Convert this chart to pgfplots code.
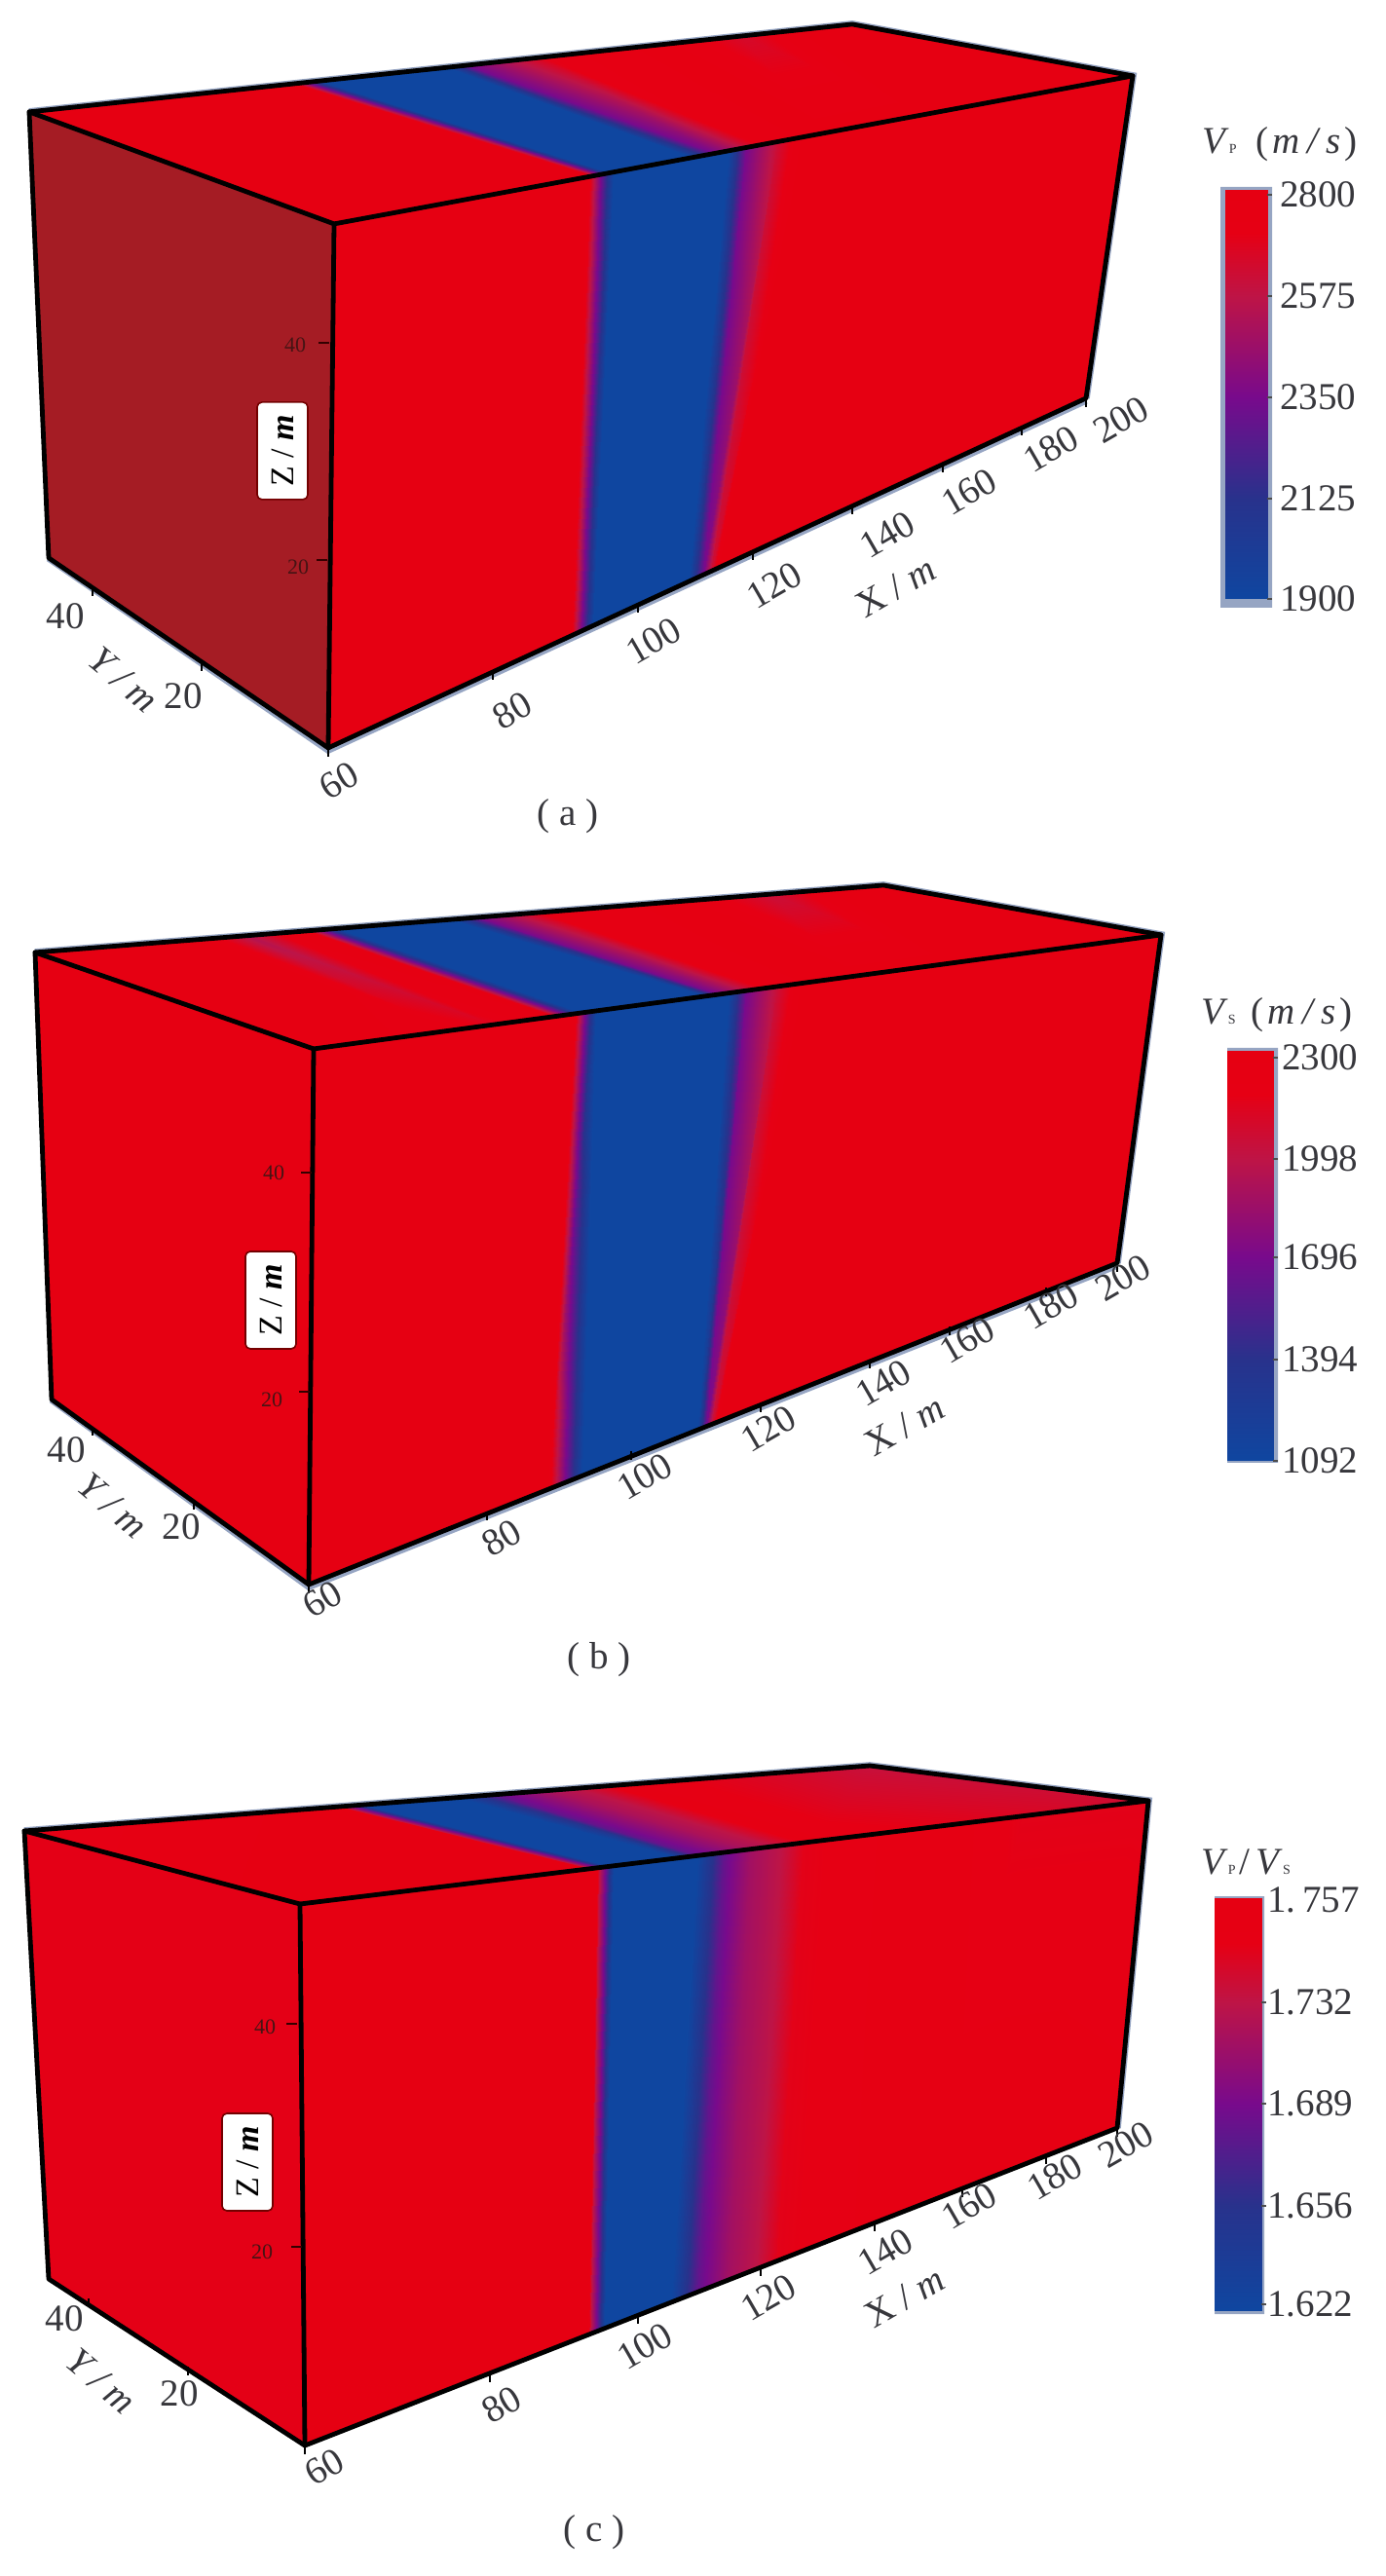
\documentclass[border=0pt]{standalone}
\usepackage{fontspec}
\setmainfont{Liberation Serif}
\usepackage{pgfplots}
\pgfplotsset{compat=1.18}
\definecolor{txt}{RGB}{55,55,60}
\definecolor{leftdark}{RGB}{165,28,36}
\definecolor{halo}{RGB}{150,165,195}
\definecolor{ztxt}{RGB}{70,20,20}
\newcommand{\fs}{\fontsize{19.5}{20}\selectfont}
\newcommand{\tk}[2]{\addplot[black,line width=1.4pt] coordinates {(#1,#2) (#1,#2+9)};}
\newcommand{\ztk}[2]{\addplot[black!80!red,line width=1.4pt] coordinates {(#1-11,#2) (#1,#2)};}
\newcommand{\lab}[4]{\node[rotate=#1,text=txt,font=\fs,inner sep=0pt] at (axis cs:#2,#3) {#4};}
\newcommand{\zlab}[3]{\node[text=ztxt,font=\fontsize{11}{11}\selectfont,inner sep=0pt] at (axis cs:#1,#2) {#3};}
\newcommand{\zbox}[2]{\node[fill=white,draw=black!55!red,line width=0.8pt,rounded corners=2.5pt,rotate=90,minimum width=50pt,minimum height=26pt,inner sep=0pt,font=\fontsize{17}{17}\selectfont,text=black] at (axis cs:#1,#2) {Z / \textit{\textbf{m}}};}
\newcommand{\cbtk}[2]{\addplot[black!70,line width=0.8pt] coordinates {(#1,#2) (#1+5,#2)};}
\pgfplotsset{panel/.style={
  at={(0,0)},anchor=south west,scale only axis,width=711.5pt,height=1322.5pt,
  xmin=0,xmax=1423,ymin=0,ymax=2645,y dir=reverse,axis lines=none,clip=false,
  enlargelimits=false},
  face/.style={surf,shader=interp,point meta=explicit,draw=none},
  edge/.style={black,line width=2.4pt,line join=round,line cap=round},
  haloline/.style={halo,line width=3.8pt},
  colormap={vel}{rgb255(0)=(15,70,160); rgb255(250)=(40,50,140); rgb255(500)=(120,10,140); rgb255(750)=(190,20,70); rgb255(900)=(230,0,20); rgb255(1000)=(230,0,18)},
  colormap={ratio}{rgb255(0)=(15,70,160); rgb255(252)=(40,50,140); rgb255(496)=(120,10,140); rgb255(815)=(190,20,70); rgb255(920)=(230,0,20); rgb255(1000)=(230,0,18)}
}
\begin{document}
\begin{tikzpicture}
\path[use as bounding box] (0,0) rectangle (711.5pt,1322.5pt);
% ---------- panel a
\begin{axis}[panel,colormap name=vel,point meta min=1900,point meta max=2800]
\addplot[haloline] coordinates {(30,115) (875,25) (1163,78) (1115,409)};
\addplot[haloline] coordinates {(50,573) (337,770) (1115,411)};
\addplot[fill=leftdark,draw=none] coordinates {(30,115) (343,230) (337,768) (50,573) (30,115)};
\addplot[face,mesh/rows=2] table[x=x,y=y,meta=c] {
x y c
30 115 2800
300 86.2 2800
328 83.3 1900
458 69.4 1900
480 67 2350
556 59 2700
680 45.8 2800
760 37.3 2650
830 29.9 2800
875 25 2800
343 230 2800
607 181 2800
626 177.5 1900
712 161.6 1900
734 157.5 2350
785 148 2750
850 136 2800
950 117.5 2800
1050 99 2800
1163 78 2800
};
\addplot[face,mesh/rows=2] table[x=x,y=y,meta=c] {
x y c
343 230 2800
603 181.8 2800
630 176.8 1900
748 154.9 1900
766 151.6 2350
798 145.7 2620
825 140.6 2800
1163 78 2800
337 768 2800
585 653.6 2800
609 642.5 1900
707 597.3 1900
722 590.4 2350
730 586.6 2620
738 583 2800
1115 409 2800
};
\addplot[edge] coordinates {(30,115) (875,25) (1163,78) (1115,409) (337,768) (50,573) (30,115)};
\addplot[edge] coordinates {(30,115) (343,230) (1163,78)};
\addplot[edge] coordinates {(343,230) (337,768)};
\tk{337}{768}\tk{506}{689}\tk{655}{620}\tk{773}{566}\tk{875}{519}\tk{968}{476}\tk{1049}{438}\tk{1115}{409}
\tk{95}{603}\tk{207}{680}
\ztk{338}{352}\ztk{336}{575}
\lab{30}{348}{802}{60}\lab{30}{526}{730}{80}\lab{30}{671}{658}{100}\lab{30}{795}{601}{120}
\lab{30}{911}{549}{140}\lab{30}{995}{505}{160}\lab{30}{1079}{461}{180}\lab{30}{1151}{431}{200}
\lab{30}{920}{603}{X / \textit{m}}
\lab{0}{67}{633}{40}\lab{0}{188}{715}{20}
\lab{-40}{127}{698}{\textit{Y / m}}
\zlab{303}{354}{40}\zlab{306}{582}{20}
\zbox{290}{463}
\lab{0}{583}{838}{( a )}
\addplot[fill=halo,draw=none] coordinates {(1253,192) (1306,192) (1306,624) (1253,624) (1253,192)};
\addplot[face,mesh/rows=5] table[x=x,y=y,meta=c] {
x y c
1258 195 2800
1301 195 2800
1258 304 2575
1301 304 2575
1258 408 2350
1301 408 2350
1258 512 2125
1301 512 2125
1258 615 1900
1301 615 1900
};
\cbtk{1301}{200}\cbtk{1301}{304}\cbtk{1301}{408}\cbtk{1301}{512}\cbtk{1301}{615}
\node[anchor=west,text=txt,font=\fs,inner sep=0pt] at (axis cs:1314,200) {2800};
\node[anchor=west,text=txt,font=\fs,inner sep=0pt] at (axis cs:1314,304) {2575};
\node[anchor=west,text=txt,font=\fs,inner sep=0pt] at (axis cs:1314,408) {2350};
\node[anchor=west,text=txt,font=\fs,inner sep=0pt] at (axis cs:1314,512) {2125};
\node[anchor=west,text=txt,font=\fs,inner sep=0pt] at (axis cs:1314,615) {1900};
\node[anchor=west,text=txt,font=\fs,inner sep=0pt] at (axis cs:1234,148) {\textit{V}{\fontsize{7}{7}\selectfont P}\hspace{10pt}(\hspace{2pt}\textit{m\hspace{4pt}/\hspace{4pt}s}\hspace{2pt})};
\end{axis}
% ---------- panel b
\begin{axis}[panel,colormap name=vel,point meta min=1092,point meta max=2300]
\addplot[haloline] coordinates {(36,978) (907,909) (1192,960) (1147,1297)};
\addplot[haloline] coordinates {(53,1437) (317,1629) (1147,1299)};
\addplot[fill={rgb,255:red,230;green,0;blue,18},draw=none] coordinates {(36,978) (322,1077) (317,1627) (53,1437) (36,978)};
\addplot[face,mesh/rows=2] table[x=x,y=y,meta=c] {
x y c
36 978 2300
209 964.3 2300
254 960.7 1950
299 957.2 2300
313 956 2300
345 953.5 1092
462 944.3 1092
490 942 1700
556 936.8 2200
700 925.4 2300
790 918.3 2050
860 912.7 2300
907 909 2300
322 1077 2300
463 1058 2250
508 1052 2150
553 1046 2250
567 1044 2300
598 1039.9 1092
725 1022.8 1092
739 1020.9 1700
790 1014 2250
880 1002 2300
980 988.5 2300
1080 975 2300
1192 960 2300
};
\addplot[face,mesh/rows=2] table[x=x,y=y,meta=c] {
x y c
322 1077 2300
589 1041 2300
612 1038 1092
748 1020 1092
766 1017.3 1696
798 1013 2050
825 1009.3 2300
1192 960 2300
317 1627 2300
562 1529.6 2300
598 1515.3 1092
716 1468.4 1092
725 1464.8 1696
731 1462.4 2050
738 1459.6 2300
1147 1297 2300
};
\addplot[edge] coordinates {(36,978) (907,909) (1192,960) (1147,1297) (317,1627) (53,1437) (36,978)};
\addplot[edge] coordinates {(36,978) (322,1077) (1192,960)};
\addplot[edge] coordinates {(322,1077) (317,1627)};
\tk{317}{1627}\tk{500}{1552}\tk{648}{1490}\tk{781}{1441}\tk{893}{1396}\tk{975}{1362}\tk{1074}{1322}\tk{1147}{1297}
\tk{95}{1465}\tk{199}{1541}
\ztk{320}{1204}\ztk{318}{1429}
\lab{30}{331}{1642}{60}\lab{30}{515}{1579}{80}\lab{30}{662}{1516}{100}\lab{30}{789}{1467}{120}
\lab{30}{907}{1420}{140}\lab{30}{993}{1376}{160}\lab{30}{1079}{1341}{180}\lab{30}{1153}{1312}{200}
\lab{30}{929}{1464}{X / \textit{m}}
\lab{0}{68}{1489}{40}\lab{0}{186}{1568}{20}
\lab{-40}{116}{1546}{\textit{Y / m}}
\zlab{281}{1204}{40}\zlab{279}{1437}{20}
\zbox{278}{1335}
\lab{0}{615}{1704}{( b )}
\addplot[fill=halo,draw=none] coordinates {(1260,1076) (1312,1076) (1312,1502) (1260,1502) (1260,1076)};
\addplot[face,mesh/rows=5] table[x=x,y=y,meta=c] {
x y c
1260 1079 2300
1307 1079 2300
1260 1190 1998
1307 1190 1998
1260 1291 1696
1307 1291 1696
1260 1396 1394
1307 1396 1394
1260 1500 1092
1307 1500 1092
};
\cbtk{1307}{1086}\cbtk{1307}{1190}\cbtk{1307}{1291}\cbtk{1307}{1396}\cbtk{1307}{1500}
\node[anchor=west,text=txt,font=\fs,inner sep=0pt] at (axis cs:1316,1086) {2300};
\node[anchor=west,text=txt,font=\fs,inner sep=0pt] at (axis cs:1316,1190) {1998};
\node[anchor=west,text=txt,font=\fs,inner sep=0pt] at (axis cs:1316,1291) {1696};
\node[anchor=west,text=txt,font=\fs,inner sep=0pt] at (axis cs:1316,1396) {1394};
\node[anchor=west,text=txt,font=\fs,inner sep=0pt] at (axis cs:1316,1500) {1092};
\node[anchor=west,text=txt,font=\fs,inner sep=0pt] at (axis cs:1233,1042) {\textit{V}{\fontsize{7}{7}\selectfont S}\hspace{8pt}(\hspace{2pt}\textit{m\hspace{4pt}/\hspace{4pt}s}\hspace{2pt})};
\end{axis}
% ---------- panel c
\begin{axis}[panel,colormap name=ratio,point meta min=1.622,point meta max=1.757]
\addplot[haloline] coordinates {(25,1880) (893,1813) (1179,1849) (1147,2185)};
\addplot[fill={rgb,255:red,228;green,0;blue,22},draw=none] coordinates {(25,1880) (308,1955) (313,2511) (50,2340) (25,1880)};
\addplot[face,mesh/rows=2] table[x=x,y=y,meta=c] {
x y c
25 1880 1.745
345 1855.3 1.757
372 1853.2 1.622
471 1845.6 1.622
508 1842.7 1.68
562 1838.5 1.72
635 1832.9 1.75
893 1813 1.735
308 1955 1.757
603 1919.1 1.757
626 1916.3 1.622
698 1907.5 1.622
716 1905.3 1.68
771 1898.7 1.72
834 1891 1.75
1179 1849 1.738
};
\addplot[face,mesh/rows=2] table[x=x,y=y,meta=c] {
x y c
308 1955 1.757
612 1918 1.757
630 1915.8 1.622
716 1905.3 1.622
743 1902 1.68
771 1898.7 1.715
825 1892.1 1.745
960 1875.7 1.752
1050 1864.7 1.745
1179 1849 1.745
313 2511 1.757
603 2397.6 1.757
621 2390.6 1.622
689 2364 1.622
716 2353.5 1.68
748 2341 1.715
798 2321.4 1.745
940 2265.9 1.752
1020 2234.6 1.752
1147 2185 1.75
};
\addplot[edge] coordinates {(25,1880) (893,1813) (1179,1849) (1147,2185) (313,2511) (50,2340) (25,1880)};
\addplot[edge] coordinates {(25,1880) (308,1955) (1179,1849)};
\addplot[edge] coordinates {(308,1955) (313,2511)};
\tk{313}{2511}\tk{503}{2437}\tk{655}{2377}\tk{781}{2328}\tk{898}{2282}\tk{988}{2247}\tk{1074}{2213}\tk{1147}{2185}
\tk{91}{2360}\tk{193}{2430}
\ztk{305}{2078}\ztk{310}{2307}
\lab{30}{333}{2533}{60}\lab{30}{515}{2469}{80}\lab{30}{662}{2409}{100}\lab{30}{789}{2359}{120}
\lab{30}{909}{2312}{140}\lab{30}{995}{2265}{160}\lab{30}{1083}{2235}{180}\lab{30}{1156}{2202}{200}
\lab{30}{929}{2359}{X / \textit{m}}
\lab{0}{66}{2381}{40}\lab{0}{184}{2458}{20}
\lab{-40}{104}{2445}{\textit{Y / m}}
\zlab{272}{2081}{40}\zlab{269}{2312}{20}
\zbox{254}{2220}
\lab{0}{610}{2600}{( c )}
\addplot[fill=halo,draw=none] coordinates {(1247,1947) (1298,1947) (1298,2376) (1247,2376) (1247,1947)};
\addplot[face,mesh/rows=5] table[x=x,y=y,meta=c] {
x y c
1247 1949 1.757
1295 1949 1.757
1247 2056 1.732
1295 2056 1.732
1247 2160 1.689
1295 2160 1.689
1247 2265 1.656
1295 2265 1.656
1247 2372 1.622
1295 2372 1.622
};
\cbtk{1295}{2056}\cbtk{1295}{2160}\cbtk{1295}{2265}\cbtk{1295}{2366}
\node[anchor=west,text=txt,font=\fs,inner sep=0pt] at (axis cs:1301,1951) {1.\,757};
\node[anchor=west,text=txt,font=\fs,inner sep=0pt] at (axis cs:1301,2056) {1.732};
\node[anchor=west,text=txt,font=\fs,inner sep=0pt] at (axis cs:1301,2160) {1.689};
\node[anchor=west,text=txt,font=\fs,inner sep=0pt] at (axis cs:1301,2265) {1.656};
\node[anchor=west,text=txt,font=\fs,inner sep=0pt] at (axis cs:1301,2366) {1.622};
\node[anchor=west,text=txt,font=\fs,inner sep=0pt] at (axis cs:1233,1912) {\textit{V}{\fontsize{7}{7}\selectfont P}\hspace{2pt}/\hspace{3pt}\textit{V}{\fontsize{7}{7}\selectfont S}};
\end{axis}
\end{tikzpicture}
\end{document}
